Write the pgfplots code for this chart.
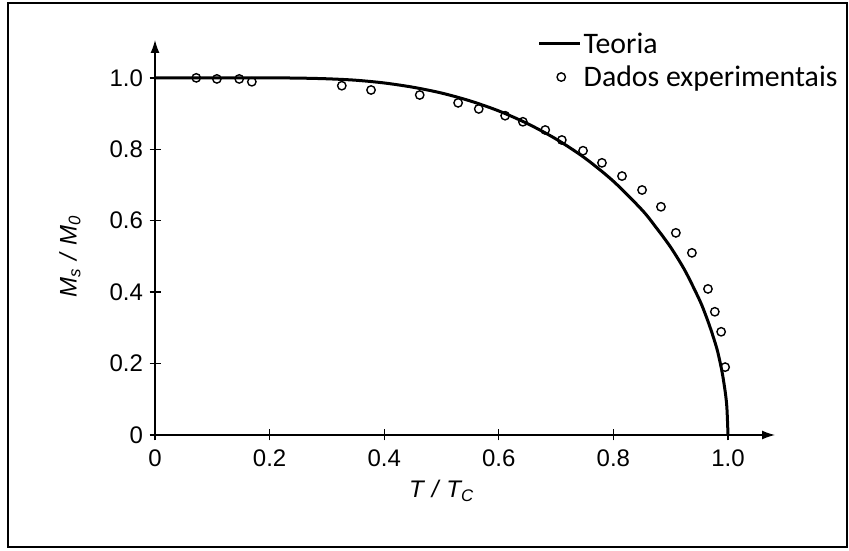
\documentclass[border=0pt]{standalone}
\usepackage{pgfplots}
\pgfplotsset{compat=1.18}
\usepackage{fontspec}
\setmainfont{Liberation Sans}
\newfontfamily\calibri{Carlito}
\usetikzlibrary{arrows.meta}
\begin{document}
\begin{tikzpicture}
\useasboundingbox (0pt,0pt) rectangle (849pt,551pt);
\draw[line width=2pt] (8pt,4pt) rectangle (847pt,548pt);
\begin{axis}[
  at={(155pt,116pt)}, anchor=south west,
  scale only axis, width=620pt, height=395pt,
  xmin=0, xmax=1.082, ymin=0, ymax=1.106,
  axis lines=left,
  axis line style={line width=1.3pt, -{Latex[length=13pt,width=9pt]}},
  tick style={line width=1.3pt, black},
  major tick length=11pt, tick align=center,
  /pgf/number format/assume math mode=true,
  xtick={0,0.2,0.4,0.6,0.8,1.0},
  xticklabels={0,0.2,0.4,0.6,0.8,1.0},
  ytick={0,0.2,0.4,0.6,0.8,1.0},
  yticklabels={0,0.2,0.4,0.6,0.8,1.0},
  ticklabel style={font=\fontsize{24}{27}\selectfont},
  xticklabel style={yshift=-6pt},
  yticklabel style={xshift=-3pt},
  xlabel={\itshape T\,\,/\,\,T\textsubscript{C}},
  ylabel={\itshape M\textsubscript{s}\,\,/\,\,M\textsubscript{0}},
  label style={font=\fontsize{24}{27}\selectfont},
  xlabel style={at={([yshift=-56pt]rel axis cs:0.462,0)}, anchor=center},
  ylabel style={at={([xshift=-85pt]rel axis cs:0,0.452)}, anchor=center},
  clip=false,
  legend image code/.code={\draw[mark repeat=2,mark phase=2,#1] plot coordinates {(0pt,0pt) (22pt,0pt) (40pt,0pt)};},
  legend style={at={(rel axis cs:0.617,0.948)}, anchor=west, draw=none, fill=none,
    font=\calibri\fontsize{29.8}{33}\selectfont, inner xsep=0pt, row sep=11pt,
    nodes={inner xsep=3pt, inner ysep=0pt}},
  legend cell align=left,
]
\addplot[black, line width=3pt, smooth] coordinates {
(0,1) (0.1,1) (0.2,0.9999) (0.25,0.9993) (0.3,0.9974) (0.35,0.9934) (0.4,0.9857)
(0.45,0.9738) (0.5,0.9575) (0.55,0.9354) (0.6,0.9073) (0.65,0.8719) (0.7,0.8286)
(0.75,0.7757) (0.8,0.7104) (0.85,0.630) (0.875,0.580) (0.9,0.5254) (0.925,0.4600)
(0.95,0.3790) (0.96,0.3400) (0.97,0.2956) (0.98,0.2449) (0.985,0.212) (0.99,0.1731)
(0.995,0.1224) (0.998,0.0775) (1.0,0)
};
\addlegendentry{Teoria}
\addplot[only marks, black, mark=o, mark size=4.2pt, mark options={line width=1.4pt}] coordinates {
(0.072,1.000) (0.108,0.997) (0.147,0.997) (0.169,0.989)
(0.326,0.978) (0.377,0.966) (0.462,0.952) (0.529,0.930) (0.565,0.913)
(0.611,0.894) (0.642,0.877) (0.681,0.854) (0.710,0.826) (0.747,0.796)
(0.780,0.762) (0.815,0.725) (0.850,0.686) (0.883,0.639) (0.909,0.566)
(0.937,0.510) (0.965,0.409) (0.977,0.345) (0.988,0.289) (0.995,0.190)
};
\addlegendentry{Dados experimentais}
\end{axis}
\end{tikzpicture}
\end{document}
